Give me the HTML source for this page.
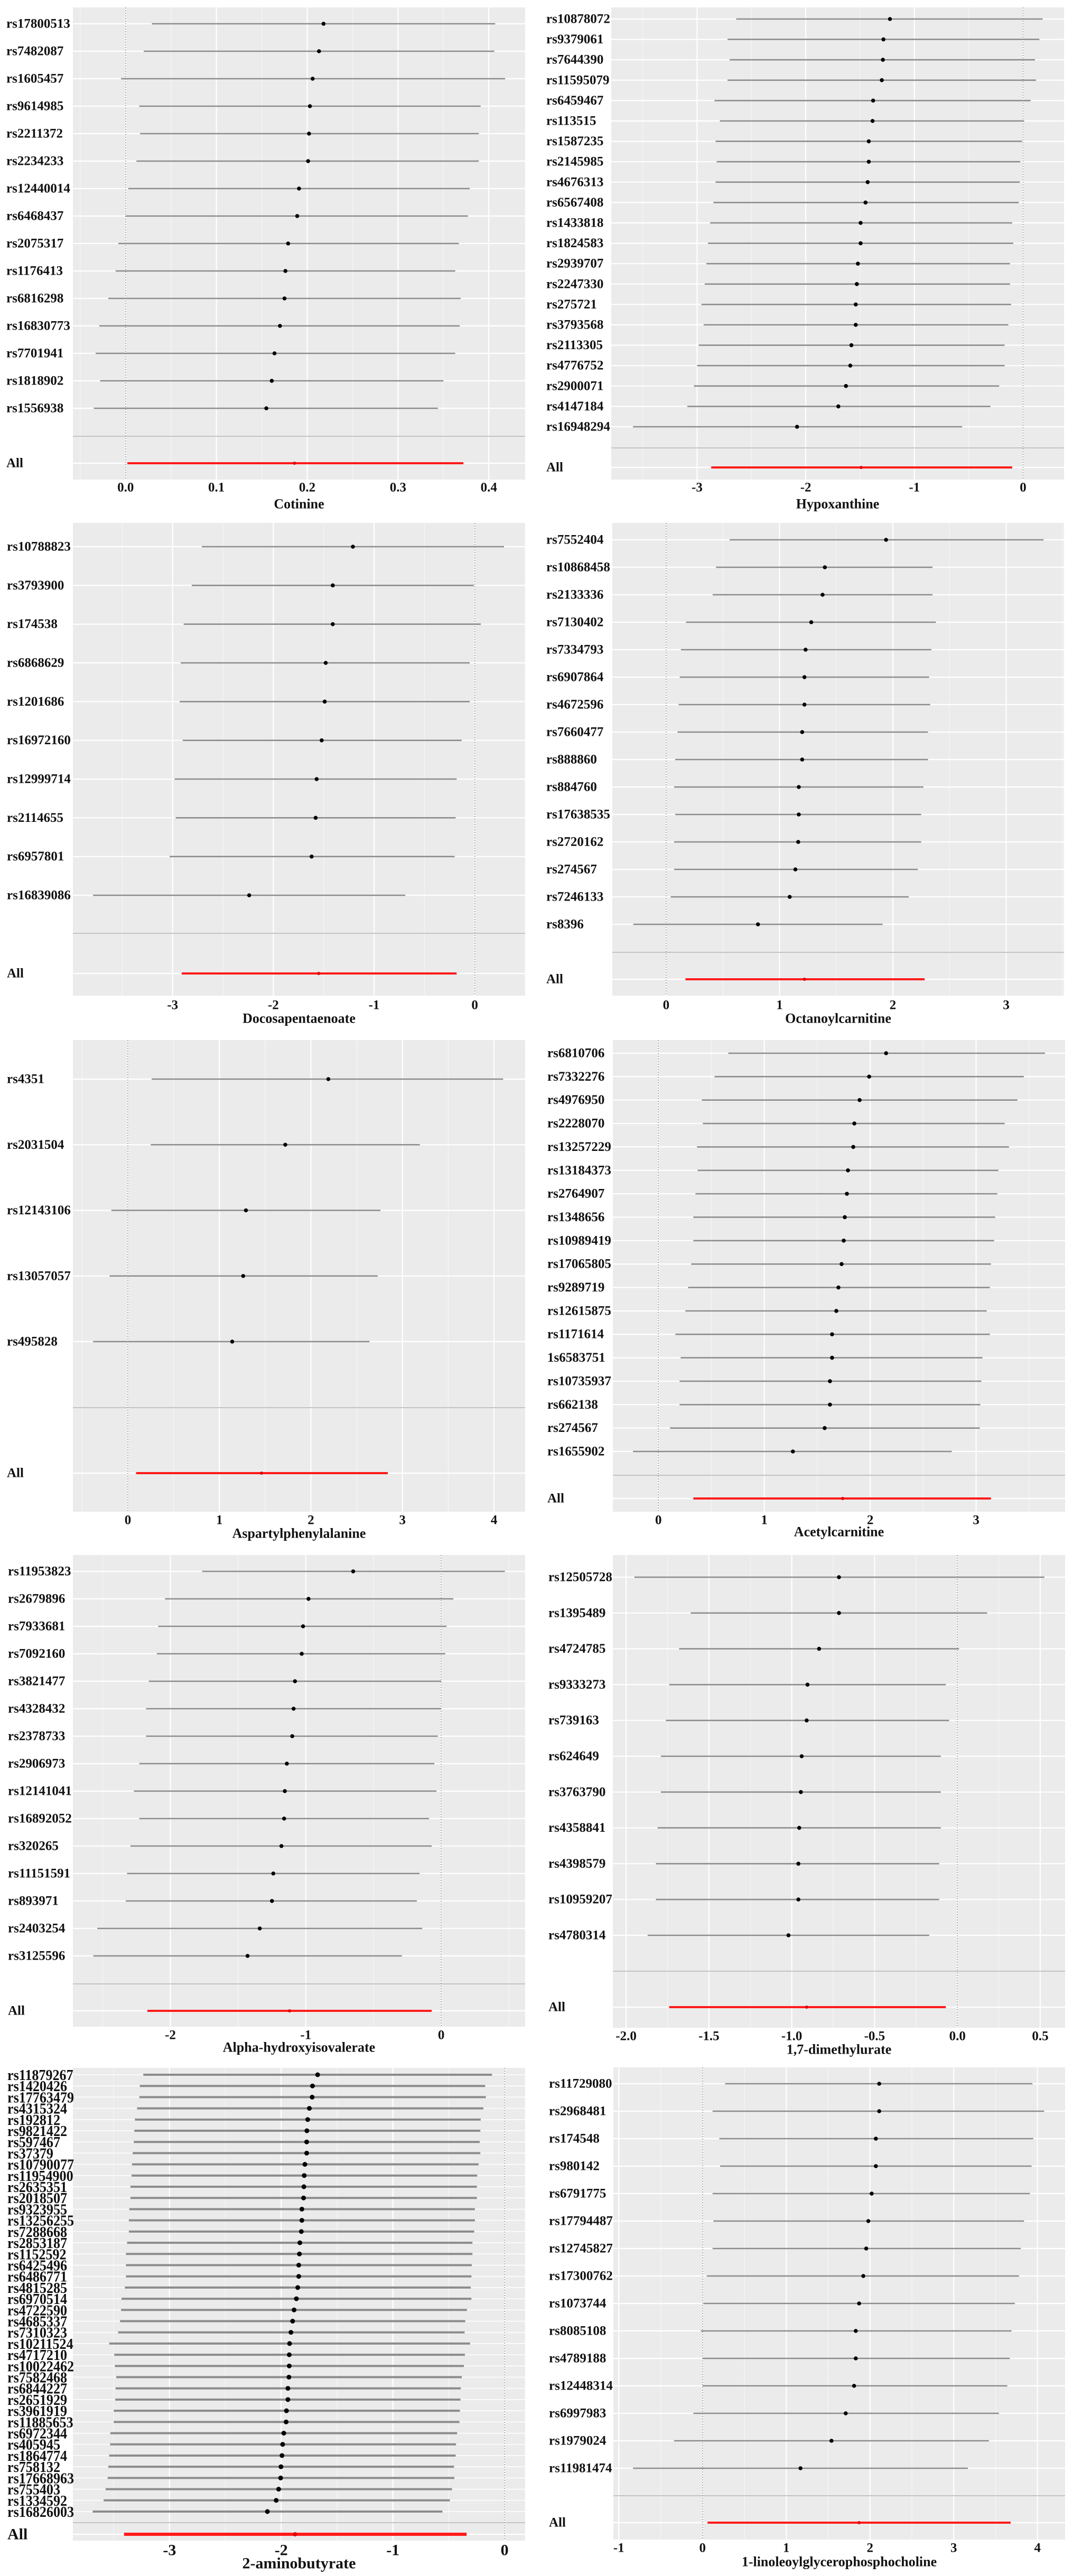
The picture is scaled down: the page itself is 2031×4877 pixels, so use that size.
<!DOCTYPE html>
<html><head><meta charset="utf-8"><title>Forest plots</title>
<style>
html,body{margin:0;padding:0;background:#fff;}
svg{display:block;}
text{font-family:"Liberation Serif",serif;font-weight:bold;fill:#111;}
</style></head>
<body>
<svg id="chart" xmlns="http://www.w3.org/2000/svg" width="2031" height="4877" viewBox="0 0 2031 4877"></svg>
<script>
// ---------- DATA ----------
const P1_LABELS=["rs17800513","rs7482087","rs1605457","rs9614985","rs2211372","rs2234233","rs12440014","rs6468437","rs2075317","rs1176413","rs6816298","rs16830773","rs7701941","rs1818902","rs1556938"];
const P1_EST=[0.218,0.213,0.206,0.203,0.202,0.201,0.191,0.189,0.179,0.176,0.175,0.170,0.164,0.161,0.155];
const P1_LO=[0.029,0.020,-0.005,0.015,0.016,0.012,0.003,0.0,-0.008,-0.011,-0.019,-0.029,-0.033,-0.028,-0.035];
const P1_HI=[0.407,0.406,0.418,0.391,0.389,0.389,0.379,0.377,0.367,0.363,0.369,0.368,0.363,0.350,0.344];
const P1_ALL=[0.002,0.186,0.372];
const P1_TICKS=[0,0.1,0.2,0.3,0.4];
const P1_TICK_LABELS=["0.0","0.1","0.2","0.3","0.4"];

const P2_LABELS=["rs10878072","rs9379061","rs7644390","rs11595079","rs6459467","rs113515","rs1587235","rs2145985","rs4676313","rs6567408","rs1433818","rs1824583","rs2939707","rs2247330","rs275721","rs3793568","rs2113305","rs4776752","rs2900071","rs4147184","rs16948294"];
const P2_EST=[-1.225,-1.285,-1.29,-1.30,-1.38,-1.385,-1.42,-1.42,-1.43,-1.45,-1.495,-1.495,-1.52,-1.53,-1.54,-1.54,-1.58,-1.59,-1.63,-1.70,-2.08];
const P2_LO=[-2.64,-2.72,-2.70,-2.72,-2.84,-2.79,-2.83,-2.82,-2.83,-2.85,-2.88,-2.90,-2.915,-2.93,-2.96,-2.94,-2.985,-3.0,-3.03,-3.09,-3.59];
const P2_HI=[0.18,0.15,0.11,0.12,0.07,0.01,-0.01,-0.025,-0.03,-0.04,-0.10,-0.09,-0.12,-0.12,-0.11,-0.135,-0.17,-0.17,-0.22,-0.30,-0.56];
const P2_ALL=[-2.87,-1.49,-0.10];
const P2_TICKS=[-3,-2,-1,0];
const P2_TICK_LABELS=["-3","-2","-1","0"];

const P3_LABELS=["rs10788823","rs3793900","rs174538","rs6868629","rs1201686","rs16972160","rs12999714","rs2114655","rs6957801","rs16839086"];
const P3_EST=[-1.21,-1.41,-1.41,-1.48,-1.49,-1.52,-1.57,-1.58,-1.62,-2.24];
const P3_LO=[-2.71,-2.81,-2.89,-2.92,-2.93,-2.90,-2.98,-2.97,-3.03,-3.79];
const P3_HI=[0.29,-0.01,0.06,-0.05,-0.05,-0.13,-0.18,-0.19,-0.20,-0.69];
const P3_ALL=[-2.91,-1.55,-0.18];
const P3_TICKS=[-3,-2,-1,0];
const P3_TICK_LABELS=["-3","-2","-1","0"];

const P4_LABELS=["rs7552404","rs10868458","rs2133336","rs7130402","rs7334793","rs6907864","rs4672596","rs7660477","rs888860","rs884760","rs17638535","rs2720162","rs274567","rs7246133","rs8396"];
const P4_EST=[1.94,1.40,1.38,1.28,1.23,1.22,1.22,1.20,1.20,1.17,1.17,1.165,1.14,1.09,0.81];
const P4_LO=[0.56,0.44,0.41,0.175,0.13,0.12,0.11,0.10,0.08,0.07,0.08,0.07,0.07,0.04,-0.29];
const P4_HI=[3.33,2.35,2.35,2.38,2.34,2.32,2.33,2.31,2.31,2.27,2.25,2.25,2.22,2.14,1.91];
const P4_ALL=[0.17,1.22,2.28];
const P4_TICKS=[0,1,2,3];
const P4_TICK_LABELS=["0","1","2","3"];

const P5_LABELS=["rs4351","rs2031504","rs12143106","rs13057057","rs495828"];
const P5_EST=[2.19,1.72,1.29,1.26,1.14];
const P5_LO=[0.26,0.25,-0.18,-0.20,-0.38];
const P5_HI=[4.10,3.19,2.76,2.73,2.64];
const P5_ALL=[0.09,1.46,2.84];
const P5_TICKS=[0,1,2,3,4];
const P5_TICK_LABELS=["0","1","2","3","4"];

const P6_LABELS=["rs6810706","rs7332276","rs4976950","rs2228070","rs13257229","rs13184373","rs2764907","rs1348656","rs10989419","rs17065805","rs9289719","rs12615875","rs1171614","1s6583751","rs10735937","rs662138","rs274567","rs1655902"];
const P6_EST=[2.15,1.99,1.90,1.85,1.84,1.79,1.78,1.76,1.75,1.73,1.70,1.68,1.64,1.64,1.62,1.62,1.57,1.27];
const P6_LO=[0.66,0.53,0.41,0.42,0.365,0.37,0.35,0.33,0.33,0.31,0.28,0.255,0.16,0.21,0.20,0.20,0.11,-0.24];
const P6_HI=[3.65,3.45,3.39,3.27,3.31,3.21,3.20,3.18,3.17,3.14,3.13,3.10,3.13,3.06,3.05,3.04,3.035,2.77];
const P6_ALL=[0.33,1.74,3.14];
const P6_TICKS=[0,1,2,3];
const P6_TICK_LABELS=["0","1","2","3"];

const P7_LABELS=["rs11953823","rs2679896","rs7933681","rs7092160","rs3821477","rs4328432","rs2378733","rs2906973","rs12141041","rs16892052","rs320265","rs11151591","rs893971","rs2403254","rs3125596"];
const P7_EST=[-0.65,-0.98,-1.02,-1.03,-1.08,-1.09,-1.10,-1.14,-1.155,-1.16,-1.18,-1.24,-1.25,-1.34,-1.43];
const P7_LO=[-1.765,-2.04,-2.09,-2.10,-2.16,-2.18,-2.18,-2.23,-2.27,-2.23,-2.295,-2.32,-2.33,-2.54,-2.57];
const P7_HI=[0.47,0.09,0.04,0.03,0.0,0.0,-0.025,-0.05,-0.035,-0.09,-0.07,-0.16,-0.18,-0.14,-0.29];
const P7_ALL=[-2.17,-1.12,-0.07];
const P7_TICKS=[-2,-1,0];
const P7_TICK_LABELS=["-2","-1","0"];

const P8_LABELS=["rs12505728","rs1395489","rs4724785","rs9333273","rs739163","rs624649","rs3763790","rs4358841","rs4398579","rs10959207","rs4780314"];
const P8_EST=[-0.715,-0.715,-0.835,-0.905,-0.91,-0.94,-0.945,-0.955,-0.96,-0.96,-1.02];
const P8_LO=[-1.95,-1.61,-1.68,-1.74,-1.76,-1.79,-1.79,-1.81,-1.82,-1.82,-1.87];
const P8_HI=[0.525,0.18,0.01,-0.07,-0.05,-0.10,-0.10,-0.10,-0.11,-0.11,-0.17];
const P8_ALL=[-1.74,-0.91,-0.07];
const P8_TICKS=[-2,-1.5,-1,-0.5,0,0.5];
const P8_TICK_LABELS=["-2.0","-1.5","-1.0","-0.5","0.0","0.5"];

const P9_LABELS=["rs11879267","rs1420426","rs17763479","rs4315324","rs192812","rs9821422","rs597467","rs37379","rs10790077","rs11954900","rs2635351","rs2018507","rs9323955","rs13256255","rs7288668","rs2853187","rs1152592","rs6425496","rs6486771","rs4815285","rs6970514","rs4722590","rs4685337","rs7310323","rs10211524","rs4717210","rs10022462","rs7582468","rs6844227","rs2651929","rs3961919","rs11885653","rs6972344","rs405945","rs1864774","rs758132","rs17668963","rs755403","rs1334592","rs16826003"];
const P9_EST=[-1.674,-1.72,-1.723,-1.748,-1.763,-1.77,-1.772,-1.772,-1.788,-1.794,-1.797,-1.80,-1.815,-1.815,-1.82,-1.833,-1.837,-1.843,-1.843,-1.852,-1.864,-1.885,-1.898,-1.913,-1.925,-1.928,-1.928,-1.931,-1.94,-1.94,-1.953,-1.956,-1.977,-1.987,-1.993,-2.002,-2.005,-2.023,-2.045,-2.124];
const P9_LO=[-3.235,-3.266,-3.27,-3.29,-3.31,-3.315,-3.32,-3.33,-3.336,-3.34,-3.35,-3.35,-3.36,-3.364,-3.364,-3.38,-3.39,-3.39,-3.39,-3.40,-3.43,-3.434,-3.443,-3.46,-3.54,-3.495,-3.49,-3.477,-3.483,-3.486,-3.50,-3.50,-3.53,-3.532,-3.54,-3.548,-3.554,-3.572,-3.59,-3.688];
const P9_HI=[-0.113,-0.174,-0.168,-0.19,-0.214,-0.217,-0.223,-0.217,-0.233,-0.245,-0.248,-0.248,-0.266,-0.266,-0.272,-0.288,-0.288,-0.294,-0.297,-0.303,-0.297,-0.337,-0.352,-0.358,-0.309,-0.355,-0.364,-0.383,-0.392,-0.395,-0.40,-0.404,-0.425,-0.435,-0.438,-0.453,-0.45,-0.471,-0.49,-0.557];
const P9_ALL=[-3.407,-1.876,-0.34];
const P9_TICKS=[-3,-2,-1,0];
const P9_TICK_LABELS=["-3","-2","-1","0"];

const P10_LABELS=["rs11729080","rs2968481","rs174548","rs980142","rs6791775","rs17794487","rs12745827","rs17300762","rs1073744","rs8085108","rs4789188","rs12448314","rs6997983","rs1979024","rs11981474"];
const P10_EST=[2.11,2.11,2.07,2.07,2.02,1.98,1.955,1.92,1.87,1.83,1.83,1.81,1.71,1.54,1.17];
const P10_LO=[0.27,0.12,0.20,0.21,0.12,0.13,0.12,0.05,0.01,-0.02,0.0,0.0,-0.11,-0.34,-0.83];
const P10_HI=[3.94,4.08,3.95,3.93,3.91,3.84,3.80,3.78,3.73,3.69,3.67,3.64,3.54,3.42,3.17];
const P10_ALL=[0.06,1.87,3.68];
const P10_TICKS=[-1,0,1,2,3,4];
const P10_TICK_LABELS=["-1","0","1","2","3","4"];

// ---------- LAYOUT CONFIG ----------
const panels=[
 {id:"cotinine",title:"Cotinine",labels:P1_LABELS,est:P1_EST,lo:P1_LO,hi:P1_HI,all:P1_ALL,ticks:P1_TICKS,tl:P1_TICK_LABELS,
  x0:138,x1:994,y0:14,y1:908,dmin:-0.058,dmax:0.44,r0:45,r1:773,sep:826,allY:877,tickY:923,titleY:954,lx:12},
 {id:"hypoxanthine",title:"Hypoxanthine",labels:P2_LABELS,est:P2_EST,lo:P2_LO,hi:P2_HI,all:P2_ALL,ticks:P2_TICKS,tl:P2_TICK_LABELS,
  x0:1157,x1:2014,y0:14,y1:908,dmin:-3.79,dmax:0.377,r0:36,r1:808,sep:848,allY:885,tickY:923,titleY:954,lx:1034},
 {id:"docosapentaenoate",title:"Docosapentaenoate",labels:P3_LABELS,est:P3_EST,lo:P3_LO,hi:P3_HI,all:P3_ALL,ticks:P3_TICKS,tl:P3_TICK_LABELS,
  x0:138,x1:994,y0:990,y1:1885,dmin:-3.99,dmax:0.50,r0:1035,r1:1695,sep:1767,allY:1843,tickY:1903,titleY:1928,lx:13},
 {id:"octanoylcarnitine",title:"Octanoylcarnitine",labels:P4_LABELS,est:P4_EST,lo:P4_LO,hi:P4_HI,all:P4_ALL,ticks:P4_TICKS,tl:P4_TICK_LABELS,
  x0:1159,x1:2014,y0:990,y1:1885,dmin:-0.475,dmax:3.51,r0:1022,r1:1750,sep:1803,allY:1854,tickY:1903,titleY:1928,lx:1034},
 {id:"aspartylphenylalanine",title:"Aspartylphenylalanine",labels:P5_LABELS,est:P5_EST,lo:P5_LO,hi:P5_HI,all:P5_ALL,ticks:P5_TICKS,tl:P5_TICK_LABELS,
  x0:138,x1:994,y0:1969,y1:2862,dmin:-0.60,dmax:4.34,r0:2043,r1:2540,sep:2665,allY:2789,tickY:2878,titleY:2903,lx:13},
 {id:"acetylcarnitine",title:"Acetylcarnitine",labels:P6_LABELS,est:P6_EST,lo:P6_LO,hi:P6_HI,all:P6_ALL,ticks:P6_TICKS,tl:P6_TICK_LABELS,
  x0:1160,x1:2016,y0:1969,y1:2862,dmin:-0.43,dmax:3.84,r0:1994,r1:2748,sep:2793,allY:2837,tickY:2878,titleY:2900,lx:1036},
 {id:"alpha-hydroxyisovalerate",title:"Alpha-hydroxyisovalerate",labels:P7_LABELS,est:P7_EST,lo:P7_LO,hi:P7_HI,all:P7_ALL,ticks:P7_TICKS,tl:P7_TICK_LABELS,
  x0:138,x1:994,y0:2944,y1:3837,dmin:-2.72,dmax:0.62,r0:2975,r1:3703,sep:3756,allY:3807,tickY:3853,titleY:3876,lx:15},
 {id:"dimethylurate",title:"1,7-dimethylurate",labels:P8_LABELS,est:P8_EST,lo:P8_LO,hi:P8_HI,all:P8_ALL,ticks:P8_TICKS,tl:P8_TICK_LABELS,
  x0:1160,x1:2016,y0:2944,y1:3839,dmin:-2.08,dmax:0.65,r0:2986,r1:3664,sep:3732,allY:3800,tickY:3855,titleY:3880,lx:1038},
 {id:"aminobutyrate",title:"2-aminobutyrate",labels:P9_LABELS,est:P9_EST,lo:P9_LO,hi:P9_HI,all:P9_ALL,ticks:P9_TICKS,tl:P9_TICK_LABELS,
  x0:138,x1:994,y0:3915,y1:4810,dmin:-3.865,dmax:0.184,r0:3928,r1:4755,sep:4776,allY:4798,tickY:4828,titleY:4853,lx:14,condensed:true},
 {id:"linoleoylglycerophosphocholine",title:"1-linoleoylglycerophosphocholine",labels:P10_LABELS,est:P10_EST,lo:P10_LO,hi:P10_HI,all:P10_ALL,ticks:P10_TICKS,tl:P10_TICK_LABELS,
  x0:1161,x1:2016,y0:3914,y1:4808,dmin:-1.065,dmax:4.33,r0:3945,r1:4673,sep:4725,allY:4776,tickY:4824,titleY:4850,lx:1039}
];

const NS="http://www.w3.org/2000/svg";
const svg=document.getElementById("chart");
function mk(tag,attrs,parent){
  const e=document.createElementNS(NS,tag);
  for(const k in attrs) e.setAttribute(k,attrs[k]);
  (parent||svg).appendChild(e);
  return e;
}

panels.forEach(function(p){
  const g=mk("g",{});
  
  
  const xs=function(v){return p.x0+(v-p.dmin)/(p.dmax-p.dmin)*(p.x1-p.x0);};
  const n=p.labels.length;
  const ys=function(i){return n>1? p.r0+(p.r1-p.r0)*i/(n-1) : p.r0;};
  const big=!!p.condensed;

  const bg=mk("rect",{x:p.x0,y:p.y0,width:p.x1-p.x0,height:p.y1-p.y0,fill:"#ebebeb"},g);
  
  

  // minor vertical gridlines
  const step=p.ticks[1]-p.ticks[0];
  for(let v=p.ticks[0]-step/2; v<=p.dmax; v+=step){
    if(v<p.dmin) continue;
    const ml=mk("line",{x1:xs(v),x2:xs(v),y1:p.y0,y2:p.y1,stroke:"#f6f6f6","stroke-width":1.2},g);
    
    
  }
  // major vertical gridlines
  p.ticks.forEach(function(t){
    const gl=mk("line",{x1:xs(t),x2:xs(t),y1:p.y0,y2:p.y1,stroke:"#ffffff","stroke-width":2.2},g);
    
    
  });
  // horizontal gridlines
  for(let i=0;i<n;i++){
    const hl=mk("line",{x1:p.x0,x2:p.x1,y1:ys(i),y2:ys(i),stroke:"#ffffff","stroke-width":big?1.5:2.2},g);
    
    
  }
  const ah=mk("line",{x1:p.x0,x2:p.x1,y1:p.allY,y2:p.allY,stroke:"#ffffff","stroke-width":2.2},g);
  
  

  // separator
  const sp=mk("line",{x1:p.x0,x2:p.x1,y1:p.sep,y2:p.sep,stroke:"#c4c4c4","stroke-width":2},g);
  
  

  // zero reference line
  if(p.dmin<0 && p.dmax>0){
    const zl=mk("line",{x1:xs(0),x2:xs(0),y1:p.y0,y2:p.y1,stroke:"#9a9a9a","stroke-width":1.6,"stroke-dasharray":"2,3"},g);
    
    
  }

  // SNP rows
  for(let i=0;i<n;i++){
    const y=ys(i);
    const ci=mk("line",{x1:xs(p.lo[i]),x2:xs(p.hi[i]),y1:y,y2:y,stroke:"#8c8c8c","stroke-width":big?4:2.6},g);
    
    
    const pt=mk("circle",{cx:xs(p.est[i]),cy:y,r:big?4.5:3.8,fill:"#000"},g);
    
    
    const lb=mk("text",{x:p.lx,y:y,"dominant-baseline":"central","font-size":big?29:25},g);
    if(big){ lb.setAttribute("transform","translate("+p.lx+",0) scale(0.9,1) translate("+(-p.lx)+",0)"); }
    lb.textContent=p.labels[i];
    
    
  }
  // All row
  const al=mk("line",{x1:xs(p.all[0]),x2:xs(p.all[2]),y1:p.allY,y2:p.allY,stroke:"#ff1a1a","stroke-width":big?6:4},g);
  
  
  const ap=mk("circle",{cx:xs(p.all[1]),cy:p.allY,r:big?4:3,fill:"#e00000"},g);
  
  
  const alb=mk("text",{x:p.lx,y:p.allY,"dominant-baseline":"central","font-size":big?30:25},g);
  alb.textContent="All";
  
  

  // tick labels
  p.ticks.forEach(function(t,i){
    const tx=mk("text",{x:xs(t),y:p.tickY,"text-anchor":"middle","dominant-baseline":"central","font-size":big?30:25},g);
    tx.textContent=p.tl[i];
    
    
  });
  // title
  const tt=mk("text",{x:(p.x0+p.x1)/2,y:p.titleY,"text-anchor":"middle","dominant-baseline":"central","font-size":big?30:26},g);
  tt.textContent=p.title;
  
  
});
</script>
</body></html>
